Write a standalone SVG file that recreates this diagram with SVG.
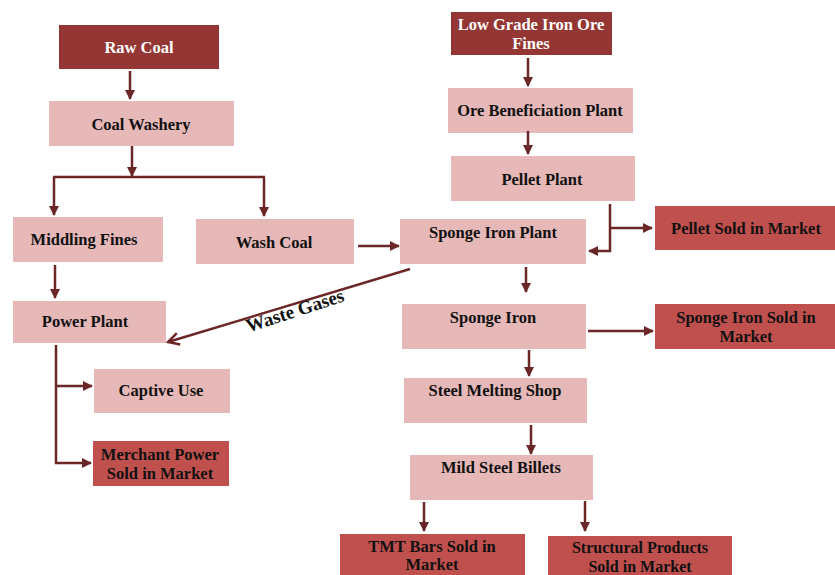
<svg xmlns="http://www.w3.org/2000/svg" width="835" height="575" viewBox="0 0 835 575">
<style>
.lt{fill:#E6B8B7}
.dk{fill:#943634}
.md{fill:#C0504D}
text{font-family:"Liberation Serif","Times New Roman",serif;font-weight:bold;font-size:16.5px;text-anchor:middle;fill:#111}
.w{fill:#fff}
.c line,.c polyline{stroke:#6B2727;stroke-width:2.5;fill:none}
</style>
<defs>
<marker id="ah" markerWidth="10" markerHeight="10" refX="9" refY="5" orient="auto" markerUnits="userSpaceOnUse">
<path d="M0,0 L10,5 L0,10 Z" fill="#6B2727"/>
</marker>
<marker id="oh" markerWidth="14" markerHeight="14" refX="12" refY="7" orient="auto" markerUnits="userSpaceOnUse">
<path d="M1,1 L12,7 L1,13" fill="none" stroke="#6B2727" stroke-width="2.5"/>
</marker>
</defs>
<rect width="835" height="575" fill="#fff"/>
<g id="raw-coal"><rect class="dk" x="59" y="25" width="160" height="44"/><text class="w" x="139" y="53">Raw Coal</text></g>
<g id="coal-washery"><rect class="lt" x="49" y="101" width="185" height="45"/><text x="141" y="130">Coal Washery</text></g>
<g id="middling-fines"><rect class="lt" x="13" y="217" width="150" height="45"/><text x="84" y="245">Middling Fines</text></g>
<g id="wash-coal"><rect class="lt" x="196" y="219" width="158" height="45"/><text x="274" y="248">Wash Coal</text></g>
<g id="power-plant"><rect class="lt" x="13" y="301" width="153" height="42"/><text x="85" y="327">Power Plant</text></g>
<g id="captive-use"><rect class="lt" x="94" y="369" width="136" height="44"/><text x="161" y="396">Captive Use</text></g>
<g id="merchant-power"><rect class="md" x="93" y="441" width="136" height="45"/><text x="160" y="460">Merchant Power</text><text x="160" y="479">Sold in Market</text></g>
<g id="low-grade"><rect class="dk" x="451" y="12" width="161" height="43"/><text class="w" x="531" y="30">Low Grade Iron Ore</text><text class="w" x="531" y="49">Fines</text></g>
<g id="ore-beneficiation"><rect class="lt" x="448" y="88" width="185" height="45"/><text x="540" y="116">Ore Beneficiation Plant</text></g>
<g id="pellet-plant"><rect class="lt" x="451" y="156" width="184" height="45"/><text x="542" y="185">Pellet Plant</text></g>
<g id="pellet-sold"><rect class="md" x="655" y="206" width="180" height="44"/><text x="746" y="234">Pellet Sold in Market</text></g>
<g id="sponge-iron-plant"><rect class="lt" x="400" y="219" width="186" height="45"/><text x="493" y="238">Sponge Iron Plant</text></g>
<g id="sponge-iron"><rect class="lt" x="402" y="304" width="184" height="45"/><text x="493" y="323">Sponge Iron</text></g>
<g id="sponge-iron-sold"><rect class="md" x="655" y="304" width="180" height="45"/><text x="746" y="323">Sponge Iron Sold in</text><text x="746" y="342">Market</text></g>
<g id="steel-melting"><rect class="lt" x="404" y="378" width="183" height="45"/><text x="495" y="396">Steel Melting Shop</text></g>
<g id="billets"><rect class="lt" x="410" y="455" width="183" height="45"/><text x="501" y="473">Mild Steel Billets</text></g>
<g id="tmt-bars"><rect class="md" x="340" y="534" width="185" height="45"/><text x="432" y="552">TMT Bars Sold in</text><text x="432" y="570">Market</text></g>
<g id="structural"><rect class="md" x="548" y="536" width="184" height="45"/><text x="640" y="553" style="font-size:16px">Structural Products</text><text x="640" y="572" style="font-size:16px">Sold in Market</text></g>
<g class="c" id="connectors">
<line x1="130" y1="71" x2="130" y2="99" marker-end="url(#ah)"/>
<line x1="132" y1="146" x2="132" y2="176" marker-end="url(#ah)"/>
<line x1="53" y1="177" x2="265" y2="177"/>
<line x1="54" y1="177" x2="54" y2="215" marker-end="url(#ah)"/>
<line x1="264" y1="178" x2="264" y2="216" marker-end="url(#ah)"/>
<line x1="358" y1="246" x2="399" y2="246" marker-end="url(#ah)"/>
<line x1="55" y1="265" x2="55" y2="298" marker-end="url(#ah)"/>
<line x1="410" y1="269" x2="168" y2="342" marker-end="url(#oh)"/>
<line x1="56" y1="345" x2="56" y2="464"/>
<line x1="55" y1="386" x2="92" y2="386" marker-end="url(#ah)"/>
<line x1="55" y1="463" x2="91" y2="463" marker-end="url(#ah)"/>
<line x1="528" y1="58" x2="528" y2="86" marker-end="url(#ah)"/>
<line x1="528" y1="131" x2="528" y2="154" marker-end="url(#ah)"/>
<polyline points="610,204 610,251 589,251" marker-end="url(#ah)"/>
<line x1="610" y1="228" x2="652" y2="228" marker-end="url(#ah)"/>
<line x1="526" y1="267" x2="526" y2="292" marker-end="url(#ah)"/>
<line x1="588" y1="331" x2="653" y2="331" marker-end="url(#ah)"/>
<line x1="529" y1="350" x2="529" y2="376" marker-end="url(#ah)"/>
<line x1="531" y1="425" x2="531" y2="454" marker-end="url(#ah)"/>
<line x1="424" y1="502" x2="424" y2="531" marker-end="url(#ah)"/>
<line x1="585" y1="501" x2="585" y2="531" marker-end="url(#ah)"/>
</g>
<text transform="translate(295,311) rotate(-18)" x="0" y="6" style="font-size:19px">Waste Gases</text>
</svg>
